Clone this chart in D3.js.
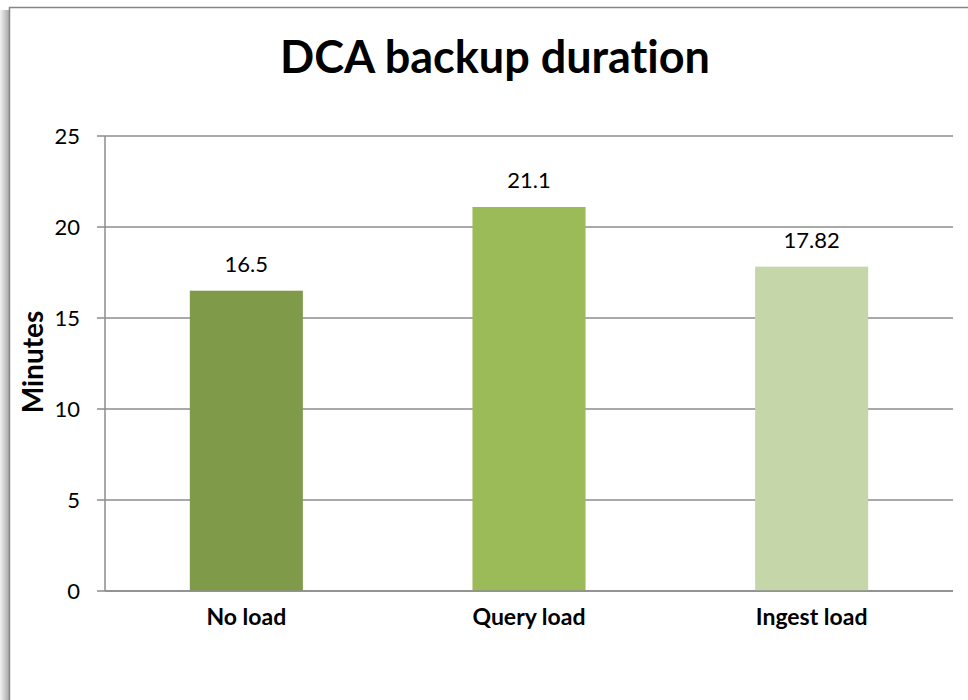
<!DOCTYPE html>
<html>
<head>
<meta charset="utf-8">
<script src="https://cdn.jsdelivr.net/npm/d3@7"></script>
<style>
  html, body { margin: 0; padding: 0; background: #fff; }
  svg { display: block; }
  text { font-family: Lato, "Open Sans", sans-serif; fill: #000; font-variant-ligatures: none; font-feature-settings: "liga" 0, "clig" 0; }
</style>
</head>
<body>
<svg id="chart" width="968" height="700"></svg>
<script>
const title = "DCA backup duration";
const categories = ["No load", "Query load", "Ingest load"];
const values = [16.5, 21.1, 17.82];
const valueLabels = ["16.5", "21.1", "17.82"];
const colors = ["#7f9a48", "#9bbb59", "#c5d6a9"];
const yTicks = [0, 5, 10, 15, 20, 25];
const yLabel = "Minutes";

const svg = d3.select("#chart");
const W = 968, H = 700;

// frame shadow + border
const defs = svg.append("defs");
const g1 = defs.append("linearGradient").attr("id", "shadowL").attr("x1", "0").attr("x2", "1");
g1.append("stop").attr("offset", "0").attr("stop-color", "#f2f2f2");
g1.append("stop").attr("offset", "1").attr("stop-color", "#a8a8a8");
svg.append("rect").attr("x", 0).attr("y", 10).attr("width", 9).attr("height", H).attr("fill", "url(#shadowL)");
svg.append("rect").attr("x", 9.5).attr("y", 7.5).attr("width", W + 20).attr("height", H + 20)
  .attr("fill", "#fff").attr("stroke", "#868686").attr("stroke-width", 1.5);

const margin = { left: 105, right: W - 953, top: 136, bottom: H - 591 };
const x = d3.scaleBand().domain(categories).range([margin.left, 953]).paddingInner(0.6).paddingOuter(0.3);
const y = d3.scaleLinear().domain([0, 25]).range([591, 136]);

// gridlines
svg.append("g").selectAll("line").data(yTicks).join("line")
  .attr("x1", margin.left - 8).attr("x2", 953)
  .attr("y1", d => y(d)).attr("y2", d => y(d))
  .attr("stroke", "#8c8c8c").attr("stroke-width", 1.5);

// y axis line
svg.append("line").attr("x1", margin.left).attr("x2", margin.left)
  .attr("y1", y(25)).attr("y2", y(0)).attr("stroke", "#8c8c8c").attr("stroke-width", 1.5);

// y tick labels
svg.append("g").selectAll("text").data(yTicks).join("text")
  .attr("x", 80).attr("y", d => y(d)).attr("dy", "0.36em")
  .attr("text-anchor", "end").attr("font-size", 22).text(d => d);

// bars
svg.append("g").selectAll("rect").data(values).join("rect")
  .attr("x", (d, i) => x(categories[i])).attr("width", x.bandwidth())
  .attr("y", d => y(d)).attr("height", d => y(0) - y(d))
  .attr("fill", (d, i) => colors[i]);

// x axis line
svg.append("line").attr("x1", margin.left).attr("x2", 953)
  .attr("y1", y(0)).attr("y2", y(0)).attr("stroke", "#8c8c8c").attr("stroke-width", 1.5);

// value labels
svg.append("g").selectAll("text").data(values).join("text")
  .attr("x", (d, i) => x(categories[i]) + x.bandwidth() / 2)
  .attr("y", d => y(d) - 19)
  .attr("text-anchor", "middle").attr("font-size", 22)
  .text((d, i) => valueLabels[i]);

// category labels
svg.append("g").selectAll("text").data(categories).join("text")
  .attr("x", d => x(d) + x.bandwidth() / 2).attr("y", 625)
  .attr("text-anchor", "middle").attr("font-size", 23).attr("font-weight", "bold")
  .text(d => d);

// y axis title
svg.append("text").attr("transform", "translate(43,362) rotate(-90)")
  .attr("text-anchor", "middle").attr("font-size", 28).attr("font-weight", "bold")
  .text(yLabel);

// title
svg.append("text").attr("x", 495).attr("y", 73)
  .attr("text-anchor", "middle").attr("font-size", 45).attr("font-weight", "bold")
  .text(title);
</script>
</body>
</html>
